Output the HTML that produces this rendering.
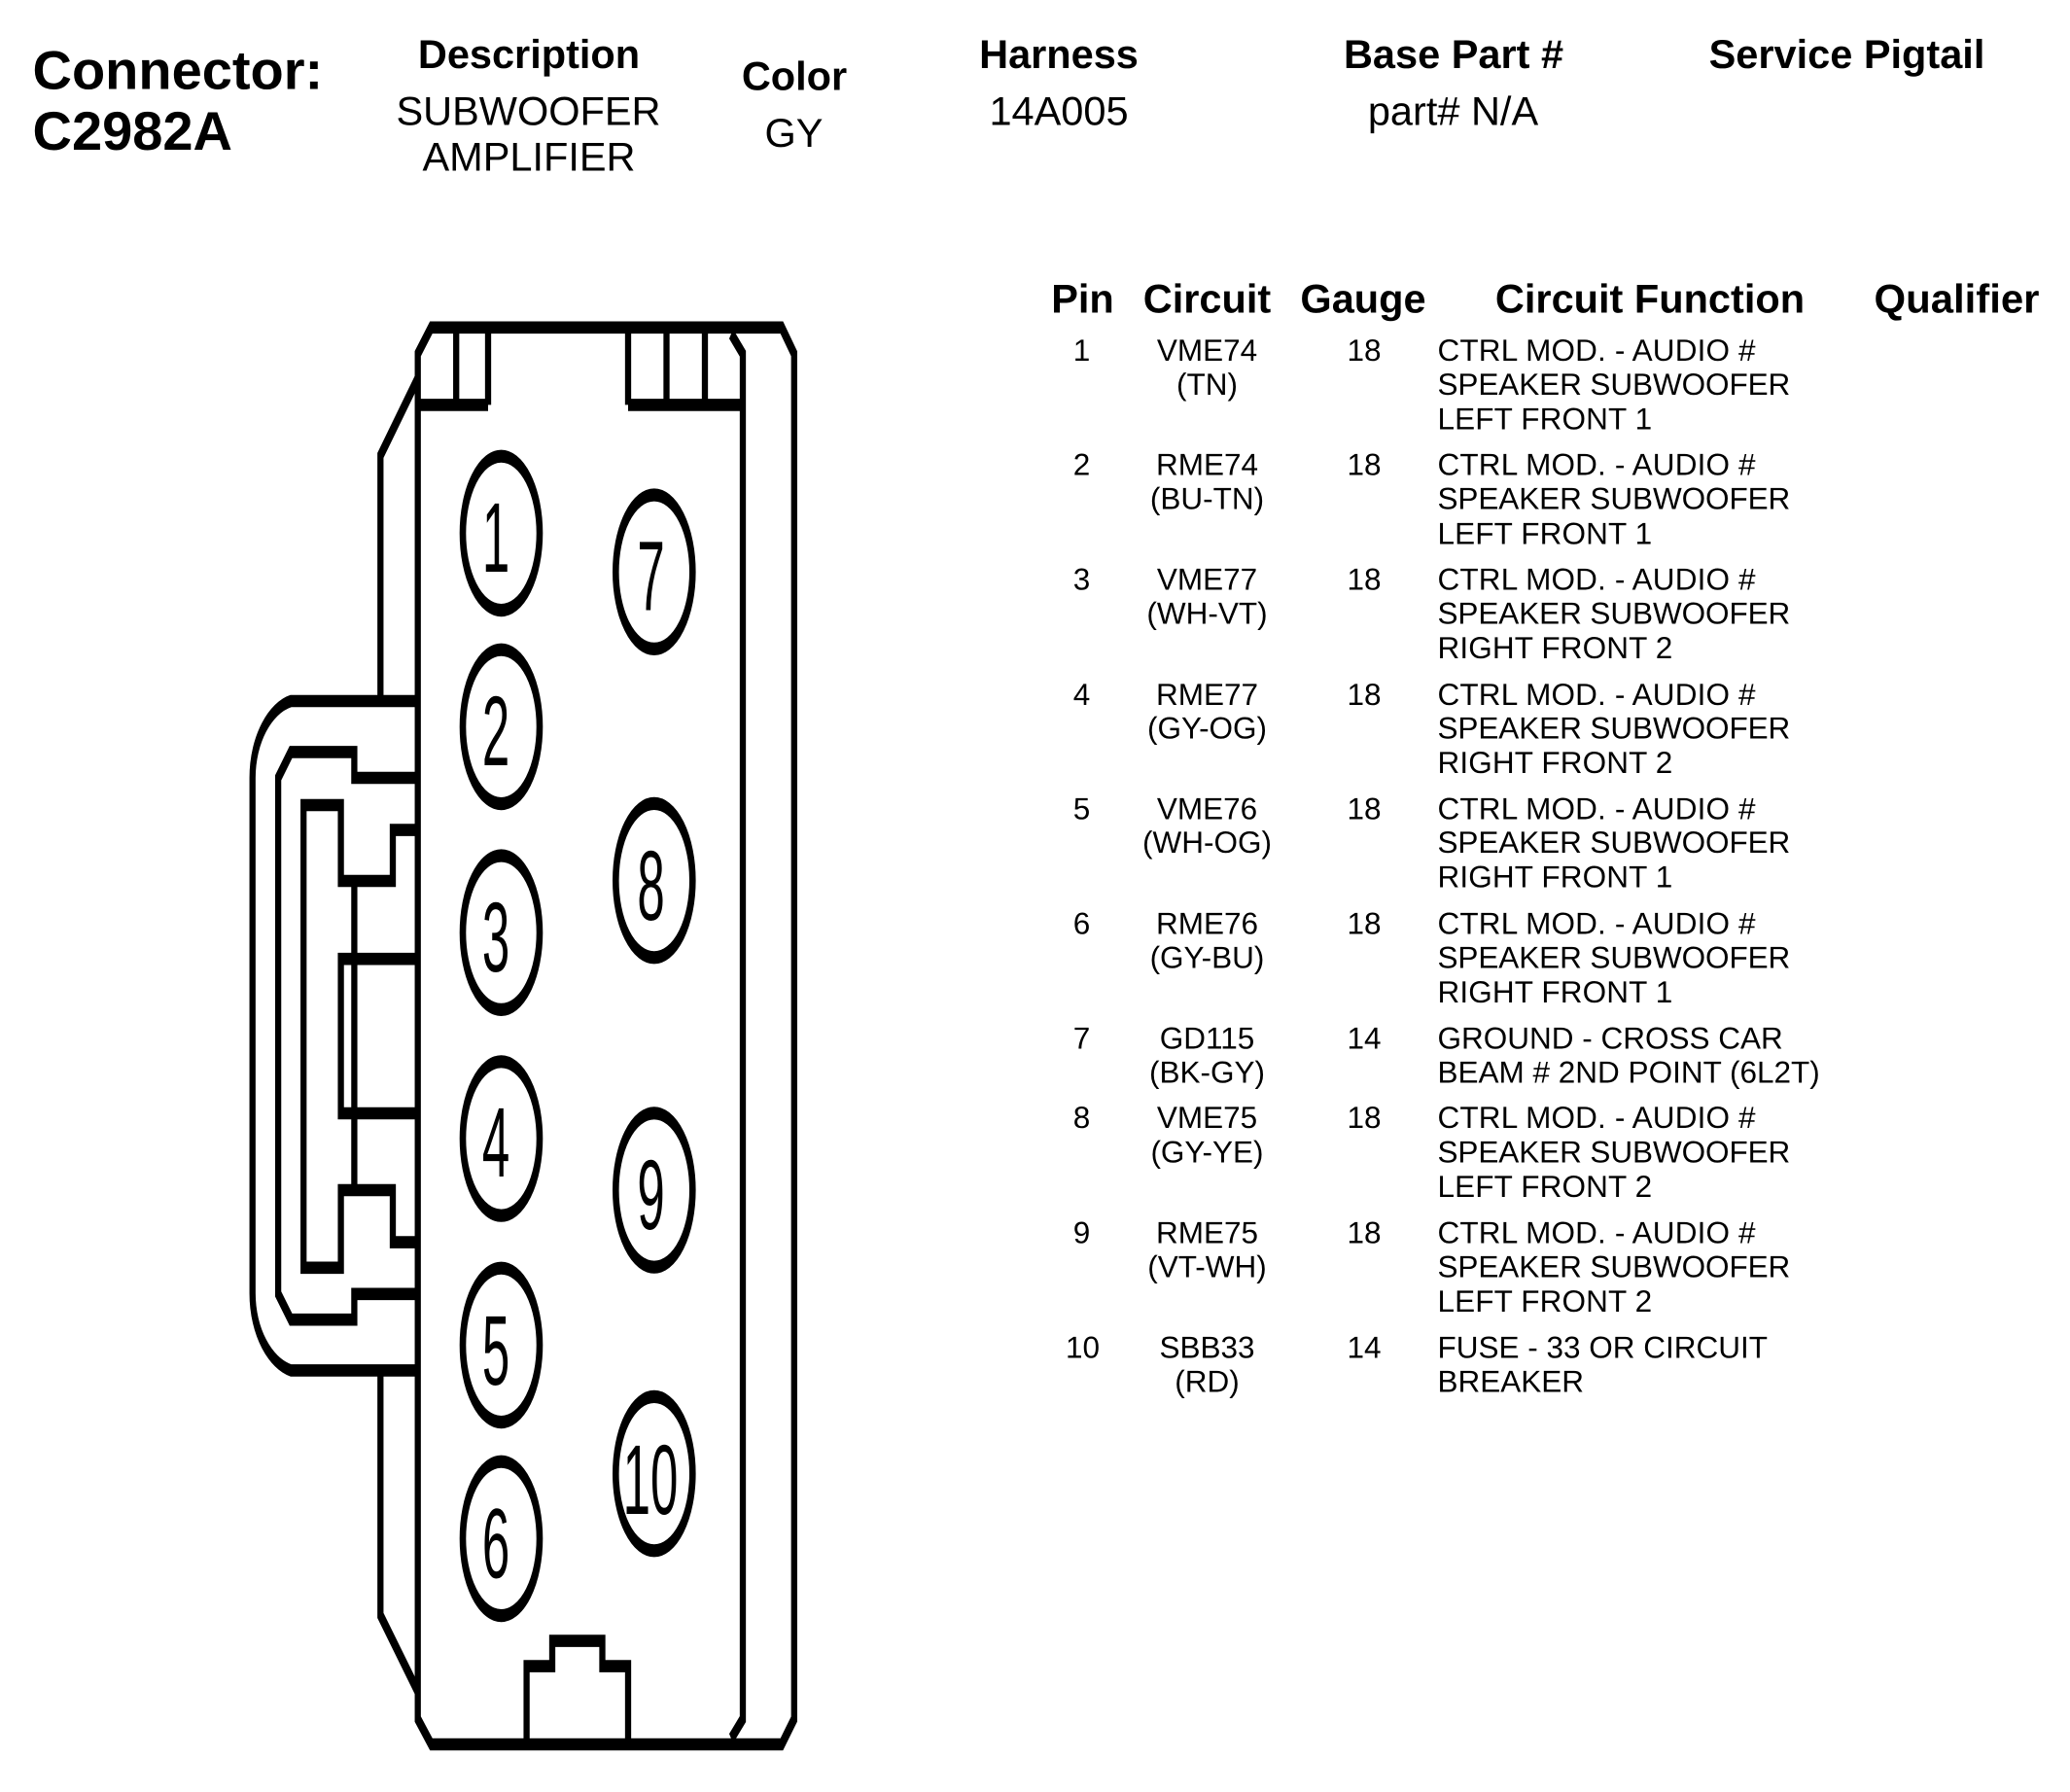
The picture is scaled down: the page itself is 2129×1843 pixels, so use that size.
<!DOCTYPE html>
<html>
<head>
<meta charset="utf-8">
<title>Connector C2982A</title>
<style>
html,body{margin:0;padding:0;background:#fff}
svg{display:block}
text{font-family:"Liberation Sans",Arial,sans-serif;fill:#000;text-rendering:geometricPrecision}
.b{font-weight:700;font-size:41.5px}
.h{font-size:41.5px}
.c{font-weight:700;font-size:56px}
.t{font-size:31.5px}
.m{text-anchor:middle}
.d{font-size:51px;text-anchor:middle}
.f{font-size:31.5px;letter-spacing:.15px}
.s{font-size:31.5px;letter-spacing:-.08px}
.e{font-size:31.5px;letter-spacing:.12px}
.l{fill:none;stroke:#000;stroke-width:6.3;stroke-linejoin:miter;stroke-linecap:butt}
.o{fill:none;stroke:#000;stroke-width:6.6}
</style>
</head>
<body>
<svg xmlns="http://www.w3.org/2000/svg" width="2129" height="1843" viewBox="0 0 2129 1843">
<rect width="2129" height="1843" fill="#fff"/>

<text class="c" x="33.5" y="91.7">Connector:</text>
<text class="c" x="33.5" y="154">C2982A</text>
<text class="b m" x="544" y="70">Description</text>
<text class="b m" x="817" y="92.7">Color</text>
<text class="b m" x="1089" y="70">Harness</text>
<text class="b m" x="1495" y="70">Base Part #</text>
<text class="b m" x="1899.5" y="70">Service Pigtail</text>
<text class="h m" x="543.5" y="128.3">SUBWOOFER</text>
<text class="h m" x="544" y="175.3">AMPLIFIER</text>
<text class="h m" x="816.5" y="151">GY</text>
<text class="h m" x="1089" y="128.3">14A005</text>
<text class="h m" x="1494.5" y="128.3">part# N/A</text>

<text class="b m" x="1113.5" y="321.7">Pin</text>
<text class="b m" x="1241.5" y="321.7">Circuit</text>
<text class="b m" x="1402" y="321.7">Gauge</text>
<text class="b m" x="1697" y="321.7">Circuit Function</text>
<text class="b" x="1927.5" y="321.7" textLength="170" lengthAdjust="spacingAndGlyphs">Qualifier</text>

<!-- Row 1 -->
<text class="t m" x="1112.5" y="371">1</text>
<text class="t m" x="1241.5" y="371">VME74</text>
<text class="t m" x="1241.5" y="406">(TN)</text>
<text class="t m" x="1403" y="371">18</text>
<text class="f" x="1478.5" y="371">CTRL MOD. - AUDIO #</text>
<text class="s" x="1478.5" y="406">SPEAKER SUBWOOFER</text>
<text class="e" x="1478.5" y="441.7">LEFT FRONT 1</text>
<!-- Row 2 -->
<text class="t m" x="1112.5" y="488.5">2</text>
<text class="t m" x="1241.5" y="488.5">RME74</text>
<text class="t m" x="1241.5" y="523.5">(BU-TN)</text>
<text class="t m" x="1403" y="488.5">18</text>
<text class="f" x="1478.5" y="488.5">CTRL MOD. - AUDIO #</text>
<text class="s" x="1478.5" y="523.5">SPEAKER SUBWOOFER</text>
<text class="e" x="1478.5" y="559.5">LEFT FRONT 1</text>
<!-- Row 3 -->
<text class="t m" x="1112.5" y="606.7">3</text>
<text class="t m" x="1241.5" y="606.7">VME77</text>
<text class="t m" x="1241.5" y="641.7">(WH-VT)</text>
<text class="t m" x="1403" y="606.7">18</text>
<text class="f" x="1478.5" y="606.7">CTRL MOD. - AUDIO #</text>
<text class="s" x="1478.5" y="641.7">SPEAKER SUBWOOFER</text>
<text class="e" x="1478.5" y="677">RIGHT FRONT 2</text>
<!-- Row 4 -->
<text class="t m" x="1112.5" y="725">4</text>
<text class="t m" x="1241.5" y="725">RME77</text>
<text class="t m" x="1241.5" y="759.5">(GY-OG)</text>
<text class="t m" x="1403" y="725">18</text>
<text class="f" x="1478.5" y="725">CTRL MOD. - AUDIO #</text>
<text class="s" x="1478.5" y="759.5">SPEAKER SUBWOOFER</text>
<text class="e" x="1478.5" y="795">RIGHT FRONT 2</text>
<!-- Row 5 -->
<text class="t m" x="1112.5" y="842.7">5</text>
<text class="t m" x="1241.5" y="842.7">VME76</text>
<text class="t m" x="1241.5" y="877">(WH-OG)</text>
<text class="t m" x="1403" y="842.7">18</text>
<text class="f" x="1478.5" y="842.7">CTRL MOD. - AUDIO #</text>
<text class="s" x="1478.5" y="877">SPEAKER SUBWOOFER</text>
<text class="e" x="1478.5" y="912.5">RIGHT FRONT 1</text>
<!-- Row 6 -->
<text class="t m" x="1112.5" y="960.7">6</text>
<text class="t m" x="1241.5" y="960.7">RME76</text>
<text class="t m" x="1241.5" y="995.3">(GY-BU)</text>
<text class="t m" x="1403" y="960.7">18</text>
<text class="f" x="1478.5" y="960.7">CTRL MOD. - AUDIO #</text>
<text class="s" x="1478.5" y="995.3">SPEAKER SUBWOOFER</text>
<text class="e" x="1478.5" y="1030.8">RIGHT FRONT 1</text>
<!-- Row 7 -->
<text class="t m" x="1112.5" y="1078.3">7</text>
<text class="t m" x="1241.5" y="1078.3">GD115</text>
<text class="t m" x="1241.5" y="1113.3">(BK-GY)</text>
<text class="t m" x="1403" y="1078.3">14</text>
<text class="t" x="1478.5" y="1078.3">GROUND - CROSS CAR</text>
<text class="t" x="1478.5" y="1113.3">BEAM # 2ND POINT (6L2T)</text>
<!-- Row 8 -->
<text class="t m" x="1112.5" y="1160">8</text>
<text class="t m" x="1241.5" y="1160">VME75</text>
<text class="t m" x="1241.5" y="1195.5">(GY-YE)</text>
<text class="t m" x="1403" y="1160">18</text>
<text class="f" x="1478.5" y="1160">CTRL MOD. - AUDIO #</text>
<text class="s" x="1478.5" y="1195.5">SPEAKER SUBWOOFER</text>
<text class="e" x="1478.5" y="1231">LEFT FRONT 2</text>
<!-- Row 9 -->
<text class="t m" x="1112.5" y="1278.3">9</text>
<text class="t m" x="1241.5" y="1278.3">RME75</text>
<text class="t m" x="1241.5" y="1313.5">(VT-WH)</text>
<text class="t m" x="1403" y="1278.3">18</text>
<text class="f" x="1478.5" y="1278.3">CTRL MOD. - AUDIO #</text>
<text class="s" x="1478.5" y="1313.5">SPEAKER SUBWOOFER</text>
<text class="e" x="1478.5" y="1349">LEFT FRONT 2</text>
<!-- Row 10 -->
<text class="t m" x="1113.5" y="1396.7">10</text>
<text class="t m" x="1241.5" y="1396.7">SBB33</text>
<text class="t m" x="1241.5" y="1431.5">(RD)</text>
<text class="t m" x="1403" y="1396.7">14</text>
<text class="t" x="1478.5" y="1396.7">FUSE - 33 OR CIRCUIT</text>
<text class="t" x="1478.5" y="1431.5">BREAKER</text>

<!-- Connector drawing: source artwork is stretched 2x vertically -->
<g transform="scale(1,2)">
  <!-- body -->
  <path class="l" d="M429.7 181.9 L443.5 168.4 H804 L816.8 181.9 V884 L804 897 H443.5 L429.7 884 Z"/>
  <path class="l" d="M752 171.7 L764 181.9 V884 L752 894"/>
  <!-- top slots -->
  <path class="l" d="M469.2 168.4 V208.2 M502 168.4 V208.2 M429.7 208.2 H502"/>
  <path class="l" d="M646 168.4 V208.2 M685.5 168.4 V208.2 M725 168.4 V208.2 M646 208.2 H764"/>
  <!-- left shoulders -->
  <path class="l" d="M429.7 194.6 L391.3 234.2 V360.5"/>
  <path class="l" d="M391.3 704.7 V830.7 L429.7 869.8"/>
  <!-- latch outer -->
  <path class="l" d="M429.7 360.5 H299.2 C278 364 259.7 380 259.7 400 V665 C259.7 685 278 701 299.2 704.7 H429.7"/>
  <!-- latch second layer -->
  <path class="l" d="M429.7 400 H364.4 V386.7 H299.2 L286.1 400 V665.4 L299.2 678.6 H364.4 V665.4 H429.7"/>
  <!-- latch third layer -->
  <path class="l" d="M429.7 426.8 H404 V453 H350.6 V414 H312.2 V651.9 H350.6 V612 H404 V638.8 H429.7"/>
  <path class="l" d="M364.4 453 V612"/>
  <path class="l" d="M429.7 493.1 H350.6 V572.5 H429.7"/>
  <!-- bottom key -->
  <path class="l" d="M541.6 897 V856.8 H568 V843.8 H619.5 V856.8 H646 V897"/>
  <!-- pin cavities -->
  <ellipse class="o" cx="515.5" cy="274.2" rx="39.5" ry="39.6"/>
  <ellipse class="o" cx="515.5" cy="373.7" rx="39.5" ry="39.6"/>
  <ellipse class="o" cx="515.5" cy="479.6" rx="39.5" ry="39.6"/>
  <ellipse class="o" cx="515.5" cy="585.5" rx="39.5" ry="39.6"/>
  <ellipse class="o" cx="515.5" cy="691.7" rx="39.5" ry="39.6"/>
  <ellipse class="o" cx="515.5" cy="791.2" rx="39.5" ry="39.6"/>
  <ellipse class="o" cx="672.8" cy="294.1" rx="39.5" ry="39.6"/>
  <ellipse class="o" cx="672.8" cy="452.8" rx="39.5" ry="39.6"/>
  <ellipse class="o" cx="672.8" cy="612" rx="39.5" ry="39.6"/>
  <ellipse class="o" cx="672.8" cy="757.8" rx="39.5" ry="39.6"/>
  <text class="d" x="510" y="294.1">1</text>
  <text class="d" x="510" y="393.6">2</text>
  <text class="d" x="510" y="499.5">3</text>
  <text class="d" x="510" y="605">4</text>
  <text class="d" x="510" y="712">5</text>
  <text class="d" x="510" y="811.3">6</text>
  <text class="d" x="669.5" y="313.8">7</text>
  <text class="d" x="669.5" y="472.9">8</text>
  <text class="d" x="669.5" y="632">9</text>
  <text class="d" x="669" y="778.6">10</text>
</g>
</svg>
</body>
</html>
